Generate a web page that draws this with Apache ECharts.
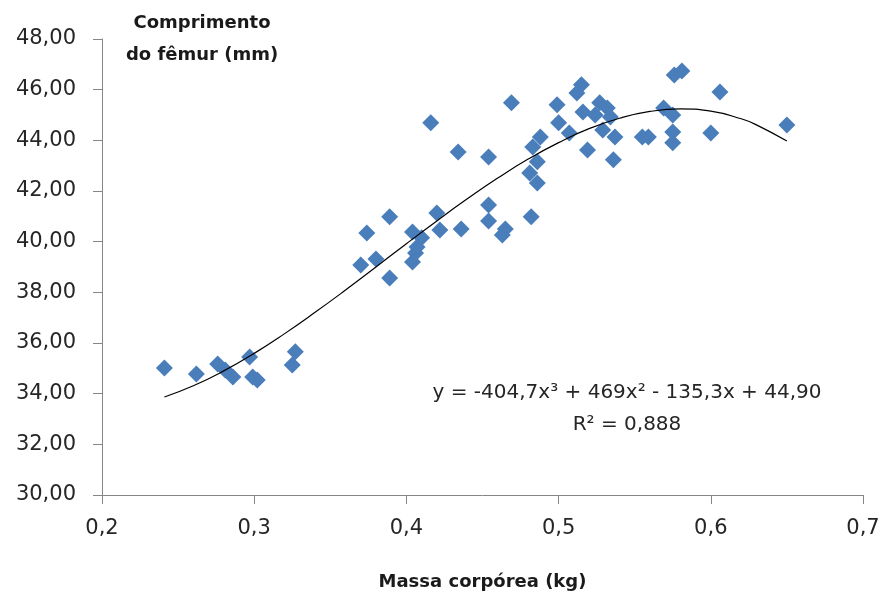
<!DOCTYPE html>
<html>
<head>
<meta charset="utf-8">
<script src="https://cdn.jsdelivr.net/npm/echarts@6/dist/echarts.min.js"></script>
<style>
html,body{margin:0;padding:0;background:#fff;}
#chart{width:883px;height:597px;}
</style>
</head>
<body>
<div id="chart"></div>
<script>
// Massa corpórea (kg)
const massa = [0.241,0.262,0.276,0.281,0.286,0.297,0.299,0.302,0.325,0.327,
  0.370,0.374,0.380,0.389,0.389,0.404,0.410,0.407,0.406,0.404,
  0.420,0.422,0.436,0.454,0.454,0.465,0.463,0.482,0.416,0.469,
  0.434,0.454,0.499,0.500,0.515,0.512,0.488,0.483,0.486,0.481,
  0.486,0.507,0.519,0.516,0.527,0.532,0.524,0.534,0.529,0.537,
  0.536,0.555,0.559,0.569,0.575,0.576,0.581,0.575,0.575,0.600,
  0.606,0.650];
// Comprimento do fêmur (mm)
const femur = [35.01,34.78,35.17,34.93,34.66,35.45,34.66,34.54,35.13,35.65,
  39.08,40.34,39.32,40.98,38.57,40.38,40.15,39.79,39.55,39.20,
  41.13,40.46,40.50,41.45,40.82,40.50,40.26,40.98,44.69,45.48,
  43.54,43.34,45.40,44.69,46.19,45.87,44.13,43.74,43.15,42.71,
  42.32,44.29,43.62,45.12,45.48,45.28,45.00,44.92,44.41,44.13,
  43.23,44.13,44.13,45.28,45.00,46.58,46.74,44.33,43.90,44.29,
  45.91,44.61];
// Trendline (polynomial, order 3)
const trendX = [0.241,0.26,0.28,0.30,0.32,0.34,0.36,0.38,0.40,0.42,0.44,0.46,0.48,0.50,0.52,0.54,0.56,0.58,0.60,0.62,0.63,0.65];
const trendY = [33.87,34.31,34.90,35.59,36.37,37.21,38.09,39.00,39.92,40.82,41.69,42.51,43.26,43.91,44.46,44.87,45.14,45.24,45.15,44.85,44.61,43.97];
// Axes
const xMin = 0.2, xMax = 0.7, xStep = 0.1;
const yMin = 30, yMax = 48, yStep = 2;
// Texts
const xTitle = 'Massa corpórea (kg)';
const yTitle = 'Comprimento\ndo fêmur (mm)';
const eqText = 'y = -404,7x³ + 469x² - 135,3x + 44,90';
const r2Text = 'R² = 0,888';

const FONT = '"DejaVu Sans", sans-serif';
const chart = echarts.init(document.getElementById('chart'), null, {renderer:'canvas'});
const pts = massa.map((m,i)=>[m, femur[i]]);
const trend = trendX.map((x,i)=>[x, trendY[i]]);
const axisLineStyle = {color:'#868686', width:1};

chart.setOption({
  animation:false,
  backgroundColor:'#ffffff',
  grid:{left:102, right:20, top:39, bottom:102, containLabel:false},
  xAxis:{
    type:'value', min:xMin, max:xMax, interval:xStep,
    name:xTitle, nameLocation:'middle', nameGap:78,
    nameTextStyle:{fontFamily:FONT, fontSize:18, fontWeight:'bold', color:'#1a1a1a'},
    axisLine:{show:true, onZero:false, lineStyle:axisLineStyle},
    axisTick:{show:true, inside:false, length:9, lineStyle:axisLineStyle},
    axisLabel:{fontFamily:FONT, fontSize:21, color:'#262626', margin:23,
      formatter:v=>v.toFixed(1).replace('.',',')},
    splitLine:{show:false}
  },
  yAxis:{
    type:'value', min:yMin, max:yMax, interval:yStep,
    axisLine:{show:true, onZero:false, lineStyle:axisLineStyle},
    axisTick:{show:true, inside:false, length:9, lineStyle:axisLineStyle},
    axisLabel:{fontFamily:FONT, fontSize:21, color:'#262626', margin:26,
      formatter:v=>v.toFixed(2).replace('.',',')},
    splitLine:{show:false}
  },
  graphic:[
    {type:'text', x:202, y:7, style:{text:yTitle, fill:'#1a1a1a', font:'bold 18px '+FONT, textAlign:'center', lineHeight:32}},
    {type:'text', x:627, y:383, style:{text:eqText, fill:'#262626', font:'20px '+FONT, textAlign:'center'}},
    {type:'text', x:627, y:415, style:{text:r2Text, fill:'#262626', font:'20px '+FONT, textAlign:'center'}}
  ],
  series:[
    {type:'scatter', data:pts, symbol:'diamond', symbolSize:17,
      itemStyle:{color:'#4A7EBB', opacity:1}, z:2},
    {type:'line', data:trend, smooth:true, showSymbol:false, symbol:'none',
      lineStyle:{color:'#000', width:1.2}, z:3}
  ]
});
</script>
</body>
</html>
